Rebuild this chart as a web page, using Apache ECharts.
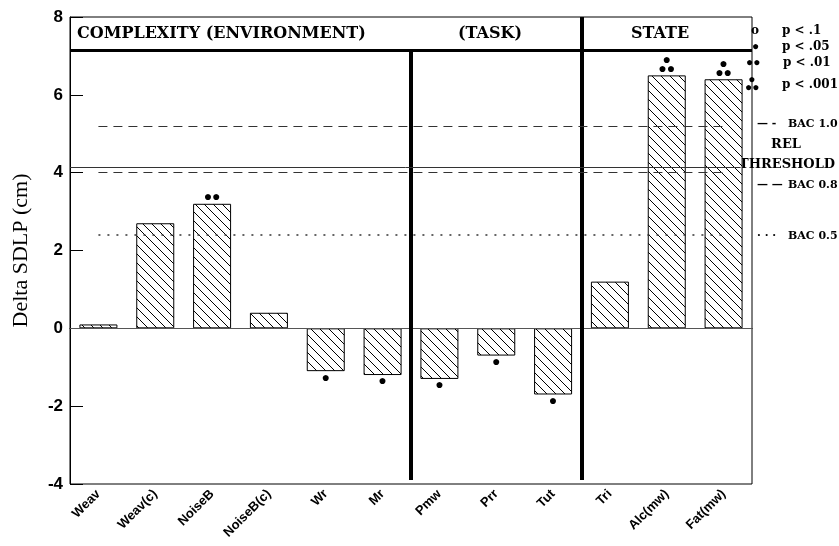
<!DOCTYPE html>
<html>
<head>
<meta charset="utf-8">
<script src="https://cdn.jsdelivr.net/npm/echarts@6/dist/echarts.min.js"></script>
<style>
  html, body { margin: 0; padding: 0; background: #fff; }
  #chart { width: 839px; height: 546px; }
</style>
</head>
<body>
<div id="chart"></div>
<script>
// data
const categories = ['Weav', 'Weav(c)', 'NoiseB', 'NoiseB(c)', 'Wr', 'Mr', 'Pmw', 'Prr', 'Tut', 'Tri', 'Alc(mw)', 'Fat(mw)'];
const deltaSdlp = [0.1, 2.7, 3.2, 0.4, -1.1, -1.2, -1.3, -0.7, -1.7, 1.2, 6.5, 6.4];
// 0 = none, 1 = p<.05, 2 = p<.01, 3 = p<.001
const significance = [0, 0, 2, 0, 1, 1, 1, 1, 1, 0, 3, 3];
const yMin = -4, yMax = 8, yStep = 2;

// reference levels (cm)
const bac10 = 5.2;
const relThreshold = 4.15;
const bac08 = 4.0;
const bac05 = 2.4;

// header band and group separators (category units)
const headerLevel = 7.15;
const groupBreaks = [5.5, 8.5];
const groupNames = ['COMPLEXITY (ENVIRONMENT)', '(TASK)', 'STATE'];

const sigMarks = ['', '●', '●●', '●\n●●'];

// hatch pattern for the bars
const hatch = document.createElement('canvas');
hatch.width = 9;
hatch.height = 9;
const hc = hatch.getContext('2d');
hc.fillStyle = '#fff';
hc.fillRect(0, 0, 9, 9);
hc.strokeStyle = '#000';
hc.lineWidth = 1;
hc.beginPath();
hc.moveTo(-1, -1); hc.lineTo(10, 10);
hc.moveTo(-1, 8); hc.lineTo(1, 10);
hc.moveTo(8, -1); hc.lineTo(10, 1);
hc.stroke();

const first = -0.5, last = categories.length - 0.5;

const seg = (x1, y1, x2, y2, style) => [
  { coord: [x1, y1], lineStyle: style },
  { coord: [x2, y2] }
];

const structureLines = [
  seg(first, 0, last, 0, { color: '#555', width: 1, type: 'solid' }),
  seg(first, headerLevel, last, headerLevel, { color: '#000', width: 3, type: 'solid' }),
  seg(groupBreaks[0], headerLevel, groupBreaks[0], yMin + 0.1, { color: '#000', width: 4, type: 'solid' }),
  seg(groupBreaks[1], yMax, groupBreaks[1], yMin + 0.1, { color: '#000', width: 4, type: 'solid' }),
  seg(0, bac10, 11, bac10, { color: '#333', width: 1.2, type: [9, 6] }),
  seg(first, relThreshold, 11.3, relThreshold, { color: '#333', width: 1, type: 'solid' }),
  seg(0, bac08, 11, bac08, { color: '#333', width: 1.2, type: [9, 6] }),
  seg(0, bac05, 11, bac05, { color: '#333', width: 1.5, type: [2, 7] })
];

const serif = '"DejaVu Serif"';
const txt = (text, x, y, size, align, font) => ({
  type: 'text', x: x, y: y, silent: true,
  style: {
    text: text, font: 'bold ' + size + 'px ' + (font || serif), fill: '#000',
    textAlign: align || 'left', textVerticalAlign: 'middle', lineHeight: size * 0.65
  }
});

const legendItems = [
  txt('o', 751, 31, 12), txt('p < .1', 782, 31, 12),
  txt('●', 752, 47, 12, 'left', 'sans-serif'), txt('p < .05', 782, 47, 12),
  txt('●●', 746, 63, 12, 'left', 'sans-serif'), txt('p < .01', 783, 63, 12),
  txt(' ●\n●●', 745, 84, 12, 'left', 'sans-serif'),
  txt('p < .001', 782, 85, 12),
  txt('— -', 757, 124, 11), txt('BAC 1.0', 788, 124, 11),
  txt('REL', 786, 145, 13, 'center'),
  txt('THRESHOLD', 787, 165, 13, 'center'),
  txt('— —', 757, 185, 11), txt('BAC 0.8', 788, 185, 11),
  txt('· · ·', 757, 236, 11), txt('BAC 0.5', 788, 236, 11)
];

const headerItems = [
  txt(groupNames[0], 77, 34, 16),
  txt(groupNames[1], 490, 34, 16, 'center'),
  txt(groupNames[2], 660, 34, 16, 'center')
];

const chart = echarts.init(document.getElementById('chart'));

const option = {
  backgroundColor: '#fff',
  animation: false,
  grid: {
    left: 70, right: 87, top: 17, bottom: 62,
    show: true, borderColor: '#000', borderWidth: 1, backgroundColor: 'transparent'
  },
  xAxis: [
    {
      type: 'category',
      data: categories,
      axisLine: { lineStyle: { color: '#000', width: 1 } },
      axisTick: { alignWithLabel: true, inside: true, length: 9, lineStyle: { color: '#000' } },
      axisLabel: {
        interval: 0, rotate: 45, margin: 8,
        fontFamily: '"Liberation Sans"', fontWeight: 'bold', fontSize: 13, color: '#000'
      },
      splitLine: { show: false }
    },
    { type: 'value', min: first, max: last, show: false }
  ],
  yAxis: {
    type: 'value',
    min: yMin, max: yMax, interval: yStep,
    name: 'Delta SDLP (cm)',
    nameLocation: 'middle',
    nameGap: 38,
    nameTextStyle: { fontFamily: '"Liberation Serif"', fontSize: 22, color: '#000' },
    axisLine: { show: true, onZero: false, lineStyle: { color: '#000', width: 1 } },
    axisTick: { show: true, inside: true, length: 13, lineStyle: { color: '#000' } },
    axisLabel: { fontFamily: '"Liberation Sans"', fontWeight: 'bold', fontSize: 17, color: '#000', margin: 7 },
    splitLine: { show: false }
  },
  series: [
    {
      type: 'bar',
      data: deltaSdlp,
      barWidth: 38,
      z: 3,
      itemStyle: {
        color: { image: hatch, repeat: 'repeat' },
        borderColor: '#000',
        borderWidth: 1
      },
      label: {
        show: true,
        position: 'outside',
        distance: 2,
        formatter: p => sigMarks[significance[p.dataIndex]],
        fontFamily: 'sans-serif',
        fontSize: 14,
        lineHeight: 9,
        color: '#000'
      }
    },
    {
      type: 'line',
      xAxisIndex: 1,
      data: [],
      z: 4,
      markLine: {
        silent: true,
        symbol: ['none', 'none'],
        label: { show: false },
        data: structureLines
      }
    }
  ],
  graphic: headerItems.concat(legendItems)
};

chart.setOption(option);
</script>
</body>
</html>
